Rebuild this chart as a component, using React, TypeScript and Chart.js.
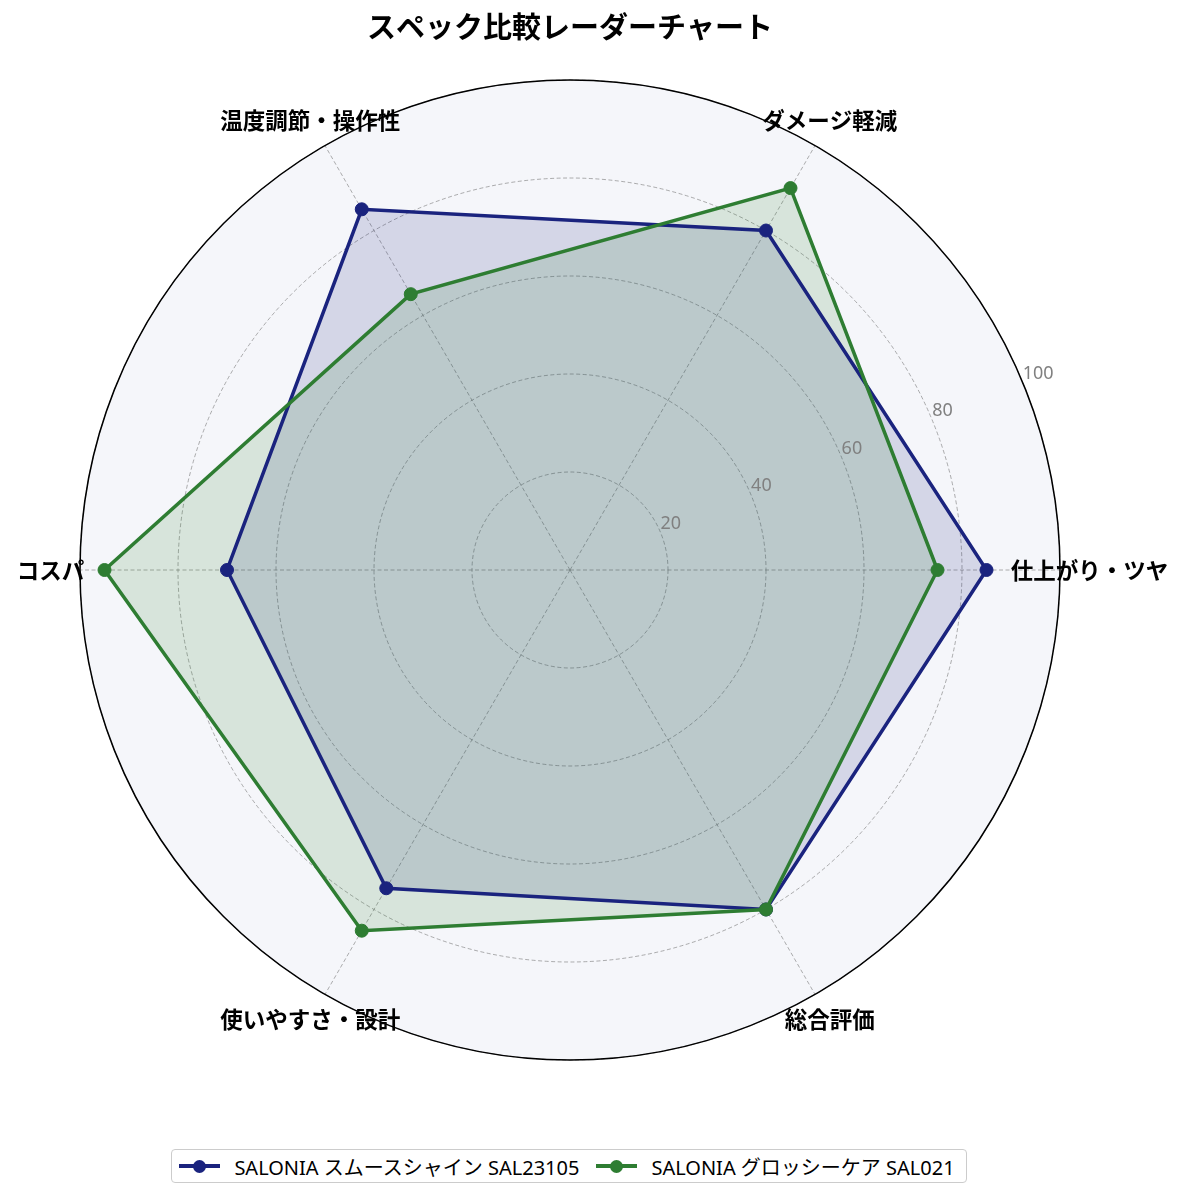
import { useEffect, useRef } from 'react';
import { Chart, registerables } from 'chart.js';
import type { Plugin } from 'chart.js';

Chart.register(...registerables);

// The reference goes counter-clockwise from 3 o'clock. Chart.js goes clockwise,
// so these lists are in clockwise order, starting at 3 o'clock (startAngle 90).
const CATEGORIES = ['仕上がり・ツヤ', '総合評価', '使いやすさ・設計', 'コスパ', '温度調節・操作性', 'ダメージ軽減'];
const SMOOTH_SHINE = [85, 80, 75, 70, 85, 80];
const GLOSSY_CARE = [75, 80, 85, 95, 65, 90];
const SERIES_NAMES = ['SALONIA スムースシャイン SAL23105', 'SALONIA グロッシーケア SAL021'];
const R_TICKS = [20, 40, 60, 80, 100];
const TITLE = 'スペック比較レーダーチャート';

const BLUE = '#1a237e';
const GREEN = '#2e7d32';
const PANEL_BG = '#f5f6fa';
const CJK = '"Noto Sans CJK JP", sans-serif';
const LATIN = '"Noto Sans", "Noto Sans CJK JP", sans-serif';

const toRad = (deg: number) => (deg * Math.PI) / 180;

const radarDecor: Plugin<'radar'> = {
    id: 'radarDecor',
    beforeDraw(chart) {
        const r = chart.scales.r as any;
        const { ctx } = chart;
        ctx.save();
        ctx.beginPath();
        ctx.arc(r.xCenter, r.yCenter, r.drawingArea, 0, Math.PI * 2);
        ctx.fillStyle = PANEL_BG;
        ctx.fill();
        ctx.restore();
    },
    afterDatasetsDraw(chart) {
        const r = chart.scales.r as any;
        const { ctx } = chart;
        ctx.save();
        ctx.beginPath();
        ctx.arc(r.xCenter, r.yCenter, r.drawingArea, 0, Math.PI * 2);
        ctx.strokeStyle = '#000';
        ctx.lineWidth = 1.5;
        ctx.stroke();
        ctx.restore();
    },
    afterDraw(chart) {
        const r = chart.scales.r as any;
        const { ctx } = chart;
        ctx.save();

        // title
        ctx.fillStyle = '#000';
        ctx.font = `bold 29px ${CJK}`;
        ctx.textAlign = 'center';
        ctx.textBaseline = 'middle';
        ctx.fillText(TITLE, r.xCenter, 27);

        // radial tick labels along 22.5°
        ctx.font = `18px ${LATIN}`;
        ctx.fillStyle = '#808080';
        ctx.textAlign = 'left';
        ctx.textBaseline = 'bottom';
        const a = toRad(22.5);
        R_TICKS.forEach((v) => {
            const d = r.getDistanceFromCenterForValue(v);
            ctx.fillText(String(v), r.xCenter + d * Math.cos(a), r.yCenter - d * Math.sin(a));
        });

        // category labels
        ctx.font = `bold 22.5px ${CJK}`;
        ctx.fillStyle = '#000';
        ctx.textAlign = 'center';
        ctx.textBaseline = 'middle';
        CATEGORIES.forEach((label, i) => {
            const p = r.getPointPositionForValue(i, 106);
            ctx.fillText(label, p.x, p.y);
        });
        ctx.restore();
    },
};

function LegendHandle({ color }: { color: string }) {
    return (
        <span style={{ position: 'relative', display: 'inline-block', width: 41, height: 14 }}>
            <span
                style={{ position: 'absolute', left: 0, right: 0, top: 5.25, height: 3.5, background: color }}
            />
            <span
                style={{
                    position: 'absolute',
                    left: 14,
                    top: 0.5,
                    width: 13,
                    height: 13,
                    borderRadius: '50%',
                    background: color,
                }}
            />
        </span>
    );
}

export default function App() {
    const canvasRef = useRef<HTMLCanvasElement>(null);

    useEffect(() => {
        if (!canvasRef.current) return;
        const chart = new Chart(canvasRef.current, {
            type: 'radar',
            data: {
                labels: CATEGORIES,
                datasets: [
                    {
                        label: SERIES_NAMES[0],
                        data: SMOOTH_SHINE,
                        borderColor: BLUE,
                        backgroundColor: 'rgba(26, 35, 126, 0.15)',
                        pointBackgroundColor: BLUE,
                        pointBorderColor: BLUE,
                        borderWidth: 3.5,
                        pointRadius: 6.5,
                        pointBorderWidth: 1,
                        fill: true,
                        order: 2,
                    },
                    {
                        label: SERIES_NAMES[1],
                        data: GLOSSY_CARE,
                        borderColor: GREEN,
                        backgroundColor: 'rgba(46, 125, 50, 0.15)',
                        pointBackgroundColor: GREEN,
                        pointBorderColor: GREEN,
                        borderWidth: 3.5,
                        pointRadius: 6.5,
                        pointBorderWidth: 1,
                        fill: true,
                        order: 1,
                    },
                ],
            },
            options: {
                responsive: true,
                maintainAspectRatio: false,
                animation: false,
                layout: { padding: { top: 80, left: 80, right: 125, bottom: 138 } },
                plugins: {
                    legend: { display: false },
                    tooltip: { enabled: false },
                    filler: { drawTime: 'beforeDatasetsDraw' },
                },
                scales: {
                    r: {
                        min: 0,
                        max: 100,
                        startAngle: 90,
                        ticks: { display: false, stepSize: 20 },
                        pointLabels: { display: false },
                        grid: { circular: true, color: 'rgba(120,120,120,0.6)', lineWidth: 1 },
                        border: { dash: [4, 2.5] },
                        angleLines: {
                            color: 'rgba(120,120,120,0.6)',
                            lineWidth: 1,
                            borderDash: [4, 2.5],
                        },
                    },
                },
            },
            plugins: [radarDecor],
        });
        return () => chart.destroy();
    }, []);

    return (
        <div style={{ position: 'absolute', left: 0, top: 0, width: 1185, height: 1198, background: '#fff' }}>
            <div style={{ position: 'absolute', inset: 0 }}>
                <canvas ref={canvasRef} />
            </div>
            <div
                style={{
                    position: 'absolute',
                    top: 1149,
                    left: 0,
                    width: 1138,
                    display: 'flex',
                    justifyContent: 'center',
                }}
            >
                <div
                    style={{
                        boxSizing: 'border-box',
                        height: 34,
                        display: 'flex',
                        alignItems: 'center',
                        gap: 17,
                        padding: '0 11px 0 7px',
                        border: '1px solid #cccccc',
                        borderRadius: 4,
                        background: '#fff',
                        fontFamily: LATIN,
                        fontSize: 20,
                        color: '#000',
                        whiteSpace: 'nowrap',
                    }}
                >
                    {SERIES_NAMES.map((name, i) => (
                        <span key={name} style={{ display: 'inline-flex', alignItems: 'center', gap: 14 }}>
                            <LegendHandle color={i === 0 ? BLUE : GREEN} />
                            {name}
                        </span>
                    ))}
                </div>
            </div>
        </div>
    );
}
